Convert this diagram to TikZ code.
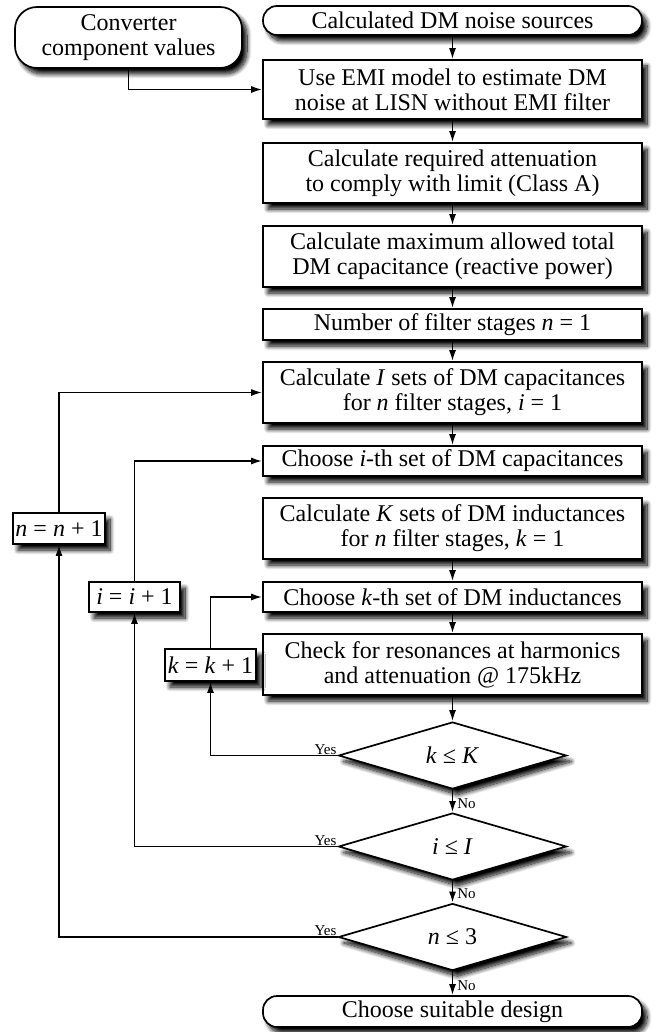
\documentclass[tikz,border=0pt]{standalone}
\usepackage{fontspec}
\setmainfont{Liberation Serif}
\usetikzlibrary{shapes.geometric,arrows.meta,shadows.blur}
\begin{document}
\begin{tikzpicture}[x=1pt,y=-1pt,
  every node/.style={font=\fontsize{24}{25}\selectfont},
  sh/.style={blur shadow={shadow xshift=5pt,shadow yshift=-6pt,shadow blur radius=4.5pt,shadow blur steps=12,shadow opacity=100}},
  proc/.style={draw,line width=1.7pt,fill=white,sh,minimum width=379pt,inner sep=0pt,align=center},
  term/.style={proc,rounded corners=14pt},
  dec/.style={draw,diamond,line width=1.7pt,fill=white,sh,minimum width=228pt,minimum height=67pt,shape aspect=3.4,inner sep=0pt},
  small/.style={draw,line width=1.7pt,fill=white,sh,inner sep=0pt,minimum width=91pt},
  lab/.style={font=\fontsize{15}{16}\selectfont,inner sep=1pt},
  arr/.style={line width=1.6pt,-{Latex[length=11pt,width=7pt]}},
  ln/.style={line width=1.6pt}
]
\useasboundingbox (0,0) rectangle (662,1032);

\node[term,minimum width=227pt,minimum height=61pt,rounded corners=22pt] (conv) at (128.5,37.5) {Converter\\component values};
\node[term,minimum height=29pt] (start) at (452.5,20.5) {Calculated DM noise sources};
\node[proc,minimum height=59pt] (b2) at (452.5,89.5) {Use EMI model to estimate DM\\noise at LISN without EMI filter};
\node[proc,minimum height=60pt] (b3) at (452.5,173) {Calculate required attenuation\\to comply with limit (Class A)};
\node[proc,minimum height=61pt] (b4) at (452.5,256.5) {Calculate maximum allowed total\\DM capacitance (reactive power)};
\node[proc,minimum height=31pt] (b5) at (452.5,324.5) {Number of filter stages \textit{n} = 1};
\node[proc,minimum height=61pt] (b6) at (452.5,392.5) {Calculate \textit{I} sets of DM capacitances\\for \textit{n} filter stages, \textit{i} = 1};
\node[proc,minimum height=30pt] (ci) at (452.5,461) {Choose \textit{i}-th set of DM capacitances};
\node[proc,minimum height=61pt] (ck) at (452.5,528.5) {Calculate \textit{K} sets of DM inductances\\for \textit{n} filter stages, \textit{k} = 1};
\node[proc,minimum height=30pt] (chk) at (452.5,597) {Choose \textit{k}-th set of DM inductances};
\node[proc,minimum height=61pt] (res) at (452.5,664.5) {Check for resonances at harmonics\\and attenuation @ 175kHz};
\node[dec] (dk) at (452.5,755.5) {\textit{k} ≤ \textit{K}};
\node[dec] (di) at (452.5,846.5) {\textit{i} ≤ \textit{I}};
\node[dec] (dn) at (452.5,937) {\textit{n} ≤ 3};
\node[term,minimum height=31pt] (fin) at (452.5,1011.5) {Choose suitable design};

\node[small,minimum width=92pt,minimum height=31pt] (nb) at (59,528.5) {\textit{n} = \textit{n} + 1};
\node[small,minimum height=30pt] (ib) at (134.5,597) {\textit{i} = \textit{i} + 1};
\node[small,minimum height=32pt] (kb) at (210.5,665) {\textit{k} = \textit{k} + 1};

\draw[arr] (conv.south) |- (b2.west);
\draw[arr] (start.south) -- (b2.north);
\draw[arr] (b2.south) -- (b3.north);
\draw[arr] (b3.south) -- (b4.north);
\draw[arr] (b4.south) -- (b5.north);
\draw[arr] (b5.south) -- (b6.north);
\draw[arr] (b6.south) -- (ci.north);
\draw[arr] (ck.south) -- (chk.north);
\draw[arr] (chk.south) -- (res.north);
\draw[arr] (res.south) -- (dk.north);
\draw[arr] (dk.south) -- node[lab,right=3pt,pos=0.6] {No} (di.north);
\draw[arr] (di.south) -- node[lab,right=3pt,pos=0.6] {No} (dn.north);
\draw[arr] (dn.south) -- node[lab,right=3pt,pos=0.6] {No} (fin.north);

\draw[arr] (dk.west) -| (kb.south);
\draw[arr] (kb.north) |- (chk.west);
\draw[arr] (di.west) -| (ib.south);
\draw[arr] (ib.north) |- (ci.west);
\draw[arr] (dn.west) -| (nb.south);
\draw[arr] (nb.north) |- (b6.west);

\node[lab,anchor=south east] at (dk.west) {Yes};
\node[lab,anchor=south east] at (di.west) {Yes};
\node[lab,anchor=south east] at (dn.west) {Yes};
\end{tikzpicture}
\end{document}
